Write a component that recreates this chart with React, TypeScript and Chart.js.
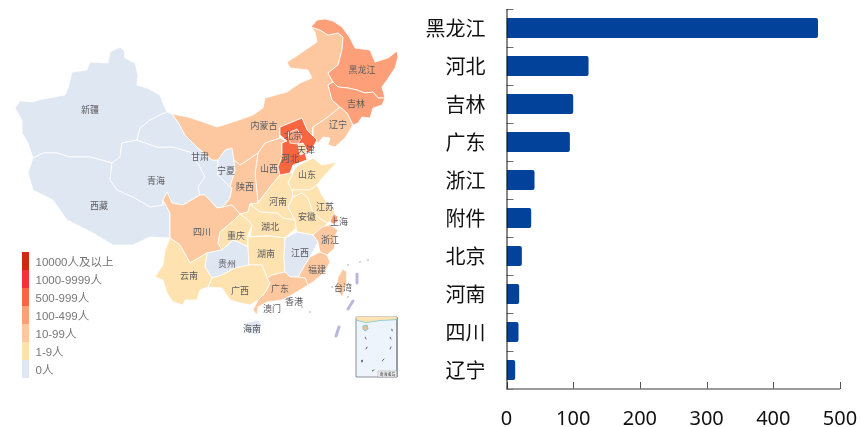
import React, { useEffect, useRef } from "react";
import { Chart, registerables } from "chart.js";

Chart.register(...registerables);

type P = [number, number];

// ---- bar chart data ----
const barCategories = ["黑龙江", "河北", "吉林", "广东", "浙江", "附件", "北京", "河南", "四川", "辽宁"];
const barValues = [467, 123, 100, 95, 42, 37, 23, 19, 18, 13];

// ---- map legend ----
const legendLabels = ["10000人及以上", "1000-9999人", "500-999人", "100-499人", "10-99人", "1-9人", "0人"];
const tierColors = ["#cf2a10", "#f6303c", "#f76640", "#fd9f78", "#fdc8a0", "#fee3b1", "#dfe7f2"];

// ---- map outlines, in map units ----
const xinjiang: P[] = [[15,108],[20,101],[32,102],[43,99],[65,95],[68,88],[72,72],[87,70],[90,62],[108,63],[110,52],[120,47],[125,52],[125,58],[135,63],[138,75],[137,85],[147,88],[160,95],[163,103],[167,112],[160,115],[150,120],[140,128],[137,140],[122,143],[120,157],[112,163],[90,157],[70,157],[57,153],[43,153],[33,158],[28,143],[22,133],[22,120]];
const tibet: P[] = [[33,158],[43,153],[57,153],[70,157],[90,157],[112,163],[110,180],[117,190],[133,197],[150,207],[163,205],[163,200],[170,213],[170,238],[150,237],[133,245],[113,245],[93,233],[67,220],[53,200],[33,190],[28,173]];
const qinghai: P[] = [[137,140],[157,147],[173,147],[190,152],[200,167],[205,177],[198,187],[200,195],[183,205],[172,203],[167,192],[163,200],[163,205],[150,207],[133,197],[117,190],[110,180],[112,163],[120,157],[122,143]];
const gansu: P[] = [[167,112],[172,114],[178,122],[185,135],[197,147],[212,160],[218,160],[218,175],[230,187],[232,188],[230,198],[223,207],[217,208],[205,195],[200,195],[198,187],[205,177],[200,167],[190,152],[173,147],[157,147],[137,140],[140,128],[150,120],[160,115]];
const ningxia: P[] = [[232,148],[234,160],[235,170],[233,177],[230,187],[218,175],[218,160],[225,150]];
const innerMongolia: P[] = [[172,114],[188,117],[203,122],[217,127],[233,122],[253,115],[263,108],[265,98],[287,92],[300,83],[312,78],[308,70],[290,68],[287,62],[295,57],[317,42],[315,32],[311,27],[320,30],[328,35],[338,33],[343,37],[342,50],[338,65],[328,73],[333,82],[328,85],[332,100],[340,107],[328,117],[313,127],[313,138],[317,140],[307,130],[302,118],[290,123],[280,127],[280,138],[265,143],[258,153],[245,162],[240,165],[234,160],[232,148],[225,150],[218,160],[212,160],[197,147],[185,135],[178,122]];
const heilongjiang: P[] = [[311,27],[317,20],[325,19],[333,21],[342,27],[350,38],[355,48],[370,50],[375,62],[388,58],[397,51],[398,57],[395,68],[387,80],[382,87],[385,98],[378,98],[373,92],[365,93],[357,90],[348,88],[338,87],[333,82],[328,73],[338,65],[342,50],[343,37],[338,33],[328,35],[320,30]];
const jilin: P[] = [[328,85],[333,82],[338,87],[348,88],[357,90],[365,93],[373,92],[378,98],[385,98],[382,105],[373,108],[370,118],[362,117],[358,123],[353,125],[347,113],[340,107],[332,100]];
const liaoning: P[] = [[340,107],[347,113],[353,125],[345,138],[335,147],[328,145],[330,138],[323,137],[318,143],[313,138],[313,127],[328,117]];
const hebei: P[] = [[280,127],[290,123],[302,118],[307,130],[317,140],[310,152],[305,153],[307,160],[293,165],[290,173],[280,175],[278,167],[282,157],[282,143],[287,141],[280,135]];
const beijing: P[] = [[288,133],[297,129],[302,137],[298,144],[290,143]];
const tianjin: P[] = [[298,144],[303,143],[307,150],[305,153],[300,155]];
const shanxi: P[] = [[258,153],[265,143],[280,138],[287,141],[282,143],[282,157],[278,167],[280,175],[270,187],[258,203],[255,173]];
const shaanxi: P[] = [[234,160],[240,165],[245,162],[258,153],[255,173],[258,203],[250,204],[248,212],[240,214],[232,205],[223,207],[230,198],[232,188],[230,187],[233,177],[235,170]];
const shandong: P[] = [[295,168],[303,163],[313,158],[322,165],[337,162],[323,177],[317,185],[310,190],[292,190],[288,183],[293,173]];
const henan: P[] = [[258,203],[270,187],[280,175],[290,173],[293,173],[288,183],[292,190],[293,197],[288,207],[295,220],[283,218],[277,213],[260,212],[250,204]];
const jiangsu: P[] = [[292,190],[310,190],[317,185],[323,197],[333,210],[337,217],[327,223],[318,217],[312,210],[308,198],[302,193],[293,197]];
const anhui: P[] = [[293,197],[302,193],[308,198],[312,210],[318,217],[327,223],[322,233],[313,235],[297,232],[296,228],[295,220],[288,207]];
const shanghai: P[] = [[333,214],[338,216],[338,222],[333,224],[330,222]];
const hubei: P[] = [[250,204],[260,212],[277,213],[283,218],[295,220],[296,228],[285,238],[270,236],[258,236],[250,237],[252,225],[248,220],[240,214],[248,212]];
const sichuan: P[] = [[167,192],[172,203],[183,205],[200,195],[205,195],[217,208],[223,207],[232,205],[240,214],[232,222],[220,232],[218,243],[222,250],[207,253],[190,263],[180,245],[170,238],[170,213],[163,200]];
const chongqing: P[] = [[220,232],[232,222],[240,214],[248,220],[252,225],[248,235],[248,247],[240,243],[233,240],[222,250],[218,243]];
const guizhou: P[] = [[207,253],[222,250],[233,240],[240,243],[248,247],[249,265],[235,268],[222,275],[212,278],[205,267]];
const yunnan: P[] = [[170,238],[180,245],[190,263],[207,253],[205,267],[212,278],[208,287],[200,290],[197,300],[185,300],[183,305],[173,302],[167,293],[163,280],[155,277],[163,265],[165,250]];
const hunan: P[] = [[250,237],[270,236],[285,238],[284,258],[285,272],[272,275],[267,278],[262,265],[249,265],[248,247],[248,235]];
const jiangxi: P[] = [[285,238],[297,232],[313,235],[318,242],[310,257],[305,265],[298,277],[290,277],[285,272],[284,258]];
const zhejiang: P[] = [[318,242],[313,235],[322,227],[330,225],[338,230],[335,237],[335,248],[327,255],[320,252]];
const fujian: P[] = [[320,252],[327,255],[330,262],[325,272],[313,282],[308,285],[305,278],[298,277],[305,265],[310,257]];
const guangdong: P[] = [[267,278],[272,275],[285,272],[290,277],[298,277],[305,278],[308,285],[297,292],[282,300],[267,302],[258,307],[257,315],[253,310],[258,300],[265,293],[270,283]];
const guangxi: P[] = [[212,278],[222,275],[235,268],[249,265],[262,265],[267,278],[270,283],[265,293],[258,300],[250,305],[240,303],[230,300],[222,288],[208,287]];
const hainan: P[] = [[245,323],[258,320],[262,325],[258,335],[248,333],[244,329]];
const taiwan: P[] = [[343,269],[347,272],[347,282],[342,297],[336,288],[338,277]];

// tier = index into legend
const provinceTable: [P[], number][] = [
  [xinjiang, 6], [tibet, 6], [qinghai, 6], [gansu, 6], [ningxia, 6], [innerMongolia, 4],
  [heilongjiang, 3], [jilin, 3], [liaoning, 4], [shanxi, 4], [shaanxi, 4], [shandong, 5],
  [henan, 5], [jiangsu, 5], [anhui, 5], [hubei, 5], [sichuan, 4], [chongqing, 5], [guizhou, 6],
  [yunnan, 5], [hunan, 5], [jiangxi, 6], [zhejiang, 4], [fujian, 4], [guangdong, 4], [guangxi, 5],
  [hainan, 6], [taiwan, 4], [hebei, 2], [beijing, 3], [tianjin, 5], [shanghai, 3],
];

const provinceLabels: [string, number, number][] = [
  ["新疆", 90, 110], ["西藏", 99, 206], ["青海", 156, 181], ["甘肃", 200, 157], ["宁夏", 226, 171], ["陕西", 245, 187],
  ["内蒙古", 264, 126], ["北京", 293, 136], ["天津", 306, 150], ["河北", 290, 159], ["山西", 269, 169], ["山东", 307, 175],
  ["辽宁", 338, 125], ["吉林", 356, 104], ["黑龙江", 362, 70], ["河南", 278, 202], ["江苏", 325, 207], ["安徽", 307, 217],
  ["上海", 339, 222], ["湖北", 270, 227], ["四川", 202, 232], ["重庆", 236, 236], ["浙江", 330, 240], ["湖南", 266, 254],
  ["江西", 300, 253], ["贵州", 227, 264], ["云南", 189, 276], ["福建", 317, 270], ["广西", 240, 291], ["广东", 280, 289],
  ["台湾", 343, 288], ["香港", 294, 302], ["澳门", 272, 309], ["海南", 252, 329],
];

const nineDash: P[][] = [[[357, 274], [357, 283]], [[353, 301], [348, 309]], [[339, 327], [336, 336]]];
const seaDots: P[] = [[360, 262], [368, 260], [348, 265], [332, 287], [348, 297], [310, 312], [302, 307]];

// inset of the South China Sea
const insetFrame: P[] = [[356, 317], [397, 317], [397, 377], [356, 377]];
const insetLand: P[] = [[356, 317], [396, 317], [396, 319], [380, 320], [366, 322], [358, 320]];
const insetCoast: P[] = [[358, 320], [366, 322], [380, 320], [396, 319]];
const insetHainan: P[] = [[363, 326], [367, 325], [368, 329], [365, 331], [363, 329]];
const insetIslands: P[][] = [[[365, 337], [366, 339]], [[367, 347], [366, 349]], [[362, 360], [362, 362]], [[372, 371], [374, 370]], [[382, 361], [384, 359]], [[390, 349], [391, 347]], [[390, 337], [391, 339]], [[392, 331], [392, 329]]];
const insetTag: P[] = [[378, 371], [397, 371], [397, 377], [378, 377]];
const insetTagText = "南海诸岛";

const legendTop = 252;
const legendStep = 18;

const polygon = (pts: P[], color: string, line = "#ffffff", width = 0.8) => ({
  data: [...pts, pts[0]].map(([x, y]) => ({ x, y })),
  showLine: true,
  fill: "shape",
  backgroundColor: color,
  borderColor: line,
  borderWidth: width,
  pointRadius: 0,
  tension: 0,
});
const stroke = (pts: P[], color: string, width: number, cap = "round") => ({
  data: pts.map(([x, y]) => ({ x, y })),
  showLine: true,
  fill: false,
  borderColor: color,
  borderWidth: width,
  borderCapStyle: cap,
  pointRadius: 0,
  tension: 0,
});

const mapText = {
  id: "mapText",
  afterDatasetsDraw(chart: any) {
    const { ctx, scales } = chart;
    const sx = scales.x, sy = scales.y;
    ctx.save();
    ctx.textAlign = "center";
    ctx.textBaseline = "middle";
    ctx.font = "9px 'Noto Sans CJK SC'";
    ctx.fillStyle = "#5a5a5e";
    provinceLabels.forEach(([n, x, y]) => ctx.fillText(n, sx.getPixelForValue(x), sy.getPixelForValue(y)));
    ctx.font = "4px 'Noto Sans CJK SC'";
    ctx.fillStyle = "#333";
    ctx.fillText(insetTagText, sx.getPixelForValue(387.5), sy.getPixelForValue(374));
    ctx.textAlign = "left";
    ctx.font = "11.5px 'Liberation Sans','Noto Sans CJK SC'";
    ctx.fillStyle = "#777777";
    legendLabels.forEach((l, i) =>
      ctx.fillText(l, sx.getPixelForValue(35.5), sy.getPixelForValue(legendTop + legendStep * (i + 0.5) + 1.5))
    );
    ctx.restore();
  },
};

const barTicks = {
  id: "barTicks",
  afterDraw(chart: any) {
    const { ctx, scales, chartArea } = chart;
    const { left, right, top, bottom } = chartArea;
    ctx.save();
    ctx.strokeStyle = "#6e6e6e";
    ctx.lineWidth = 1;
    const step = (bottom - top) / barCategories.length;
    for (let i = 0; i <= barCategories.length; i++) {
      const y = Math.round(top + step * i) + 0.5;
      ctx.beginPath(); ctx.moveTo(left, y); ctx.lineTo(left + 7, y); ctx.stroke();
    }
    ctx.strokeStyle = "#555";
    scales.x.ticks.forEach((t: any) => {
      const x = Math.round(scales.x.getPixelForValue(t.value)) + 0.5;
      ctx.beginPath(); ctx.moveTo(x, bottom); ctx.lineTo(x, bottom - 7); ctx.stroke();
    });
    ctx.strokeStyle = "#7a7a7a";
    ctx.lineWidth = 1.5;
    ctx.beginPath(); ctx.moveTo(left, bottom); ctx.lineTo(right, bottom); ctx.stroke();
    ctx.strokeStyle = "#111";
    ctx.lineWidth = 1;
    ctx.beginPath(); ctx.moveTo(left + 0.5, top); ctx.lineTo(left + 0.5, bottom); ctx.stroke();
    ctx.restore();
  },
};

export default function App() {
  const mapRef = useRef<HTMLCanvasElement>(null);
  const barRef = useRef<HTMLCanvasElement>(null);
  useEffect(() => {
    document.body.style.margin = "0";
    // listed in painting order; Chart.js paints the last dataset first
    const paintOrder: any[] = [
      ...provinceTable.map(([pts, tier]) => polygon(pts, tierColors[tier])),
      ...nineDash.map((d) => stroke(d, "#b9b8de", 3)),
      { data: seaDots.map(([x, y]) => ({ x, y })), pointRadius: 0.8, backgroundColor: "#9aa4b4", borderWidth: 0 },
      polygon(insetFrame, "#eef4fb", "#8b8f98", 1),
      stroke(insetCoast, "#79c6d6", 2),
      polygon(insetLand, "#fde3b1", "#fde3b1", 0.5),
      polygon(insetHainan, "#f5c08a", "#79c6d6", 1),
      ...insetIslands.map((d) => stroke(d, "#5b6b80", 1)),
      polygon(insetTag, "#f4f5f7", "#9a9a9a", 0.5),
      ...tierColors.map((c, i) =>
        stroke([[25.5, legendTop + legendStep * i], [25.5, legendTop + legendStep * (i + 1)]], c, 7, "butt")
      ),
    ];
    const map = new Chart(mapRef.current!, {
      type: "scatter",
      data: { datasets: paintOrder.reverse() },
      plugins: [mapText],
      options: {
        responsive: false,
        animation: false,
        layout: { padding: 0, autoPadding: false },
        plugins: { legend: { display: false }, tooltip: { enabled: false } },
        events: [],
        scales: {
          x: { type: "linear", display: false, min: 0, max: 420 },
          y: { type: "linear", display: false, min: 0, max: 427, reverse: true },
        },
      },
    } as any);
    const bar = new Chart(barRef.current!, {
      type: "bar",
      data: {
        labels: barCategories,
        datasets: [{
          data: barValues,
          backgroundColor: "#03429b",
          borderRadius: 2,
          borderSkipped: "left",
          categoryPercentage: 0.53,
          barPercentage: 1,
        }],
      },
      plugins: [barTicks],
      options: {
        indexAxis: "y",
        responsive: false,
        animation: false,
        layout: { padding: { top: 9, right: 20, left: 0, bottom: 0 }, autoPadding: false },
        plugins: { legend: { display: false }, tooltip: { enabled: false } },
        events: [],
        scales: {
          x: {
            min: 0, max: 500,
            afterFit: (s: any) => { s.height = 38; s.paddingLeft = 0; s.paddingRight = 0; },
            grid: { display: false, drawTicks: false },
            border: { display: false },
            ticks: {
              stepSize: 100, maxRotation: 0, padding: 18,
              color: "#111", font: { family: "'Noto Sans'", size: 20 },
            },
          },
          y: {
            afterFit: (s: any) => { s.width = 86.5; s.paddingTop = 0; s.paddingBottom = 0; },
            grid: { display: false, drawTicks: false },
            border: { display: false },
            ticks: {
              padding: 21, autoSkip: false,
              color: "#111", font: { family: "'Noto Sans CJK SC'", size: 20 },
            },
          },
        },
      },
    } as any);
    return () => { map.destroy(); bar.destroy(); };
  }, []);
  return (
    <div style={{ position: "fixed", left: 0, top: 0, width: 860, height: 427, background: "#fff" }}>
      <canvas ref={mapRef} width={420} height={427} style={{ position: "absolute", left: 0, top: 0, filter: "blur(0.7px)" }} />
      <canvas ref={barRef} width={440} height={427} style={{ position: "absolute", left: 420, top: 0 }} />
    </div>
  );
}
